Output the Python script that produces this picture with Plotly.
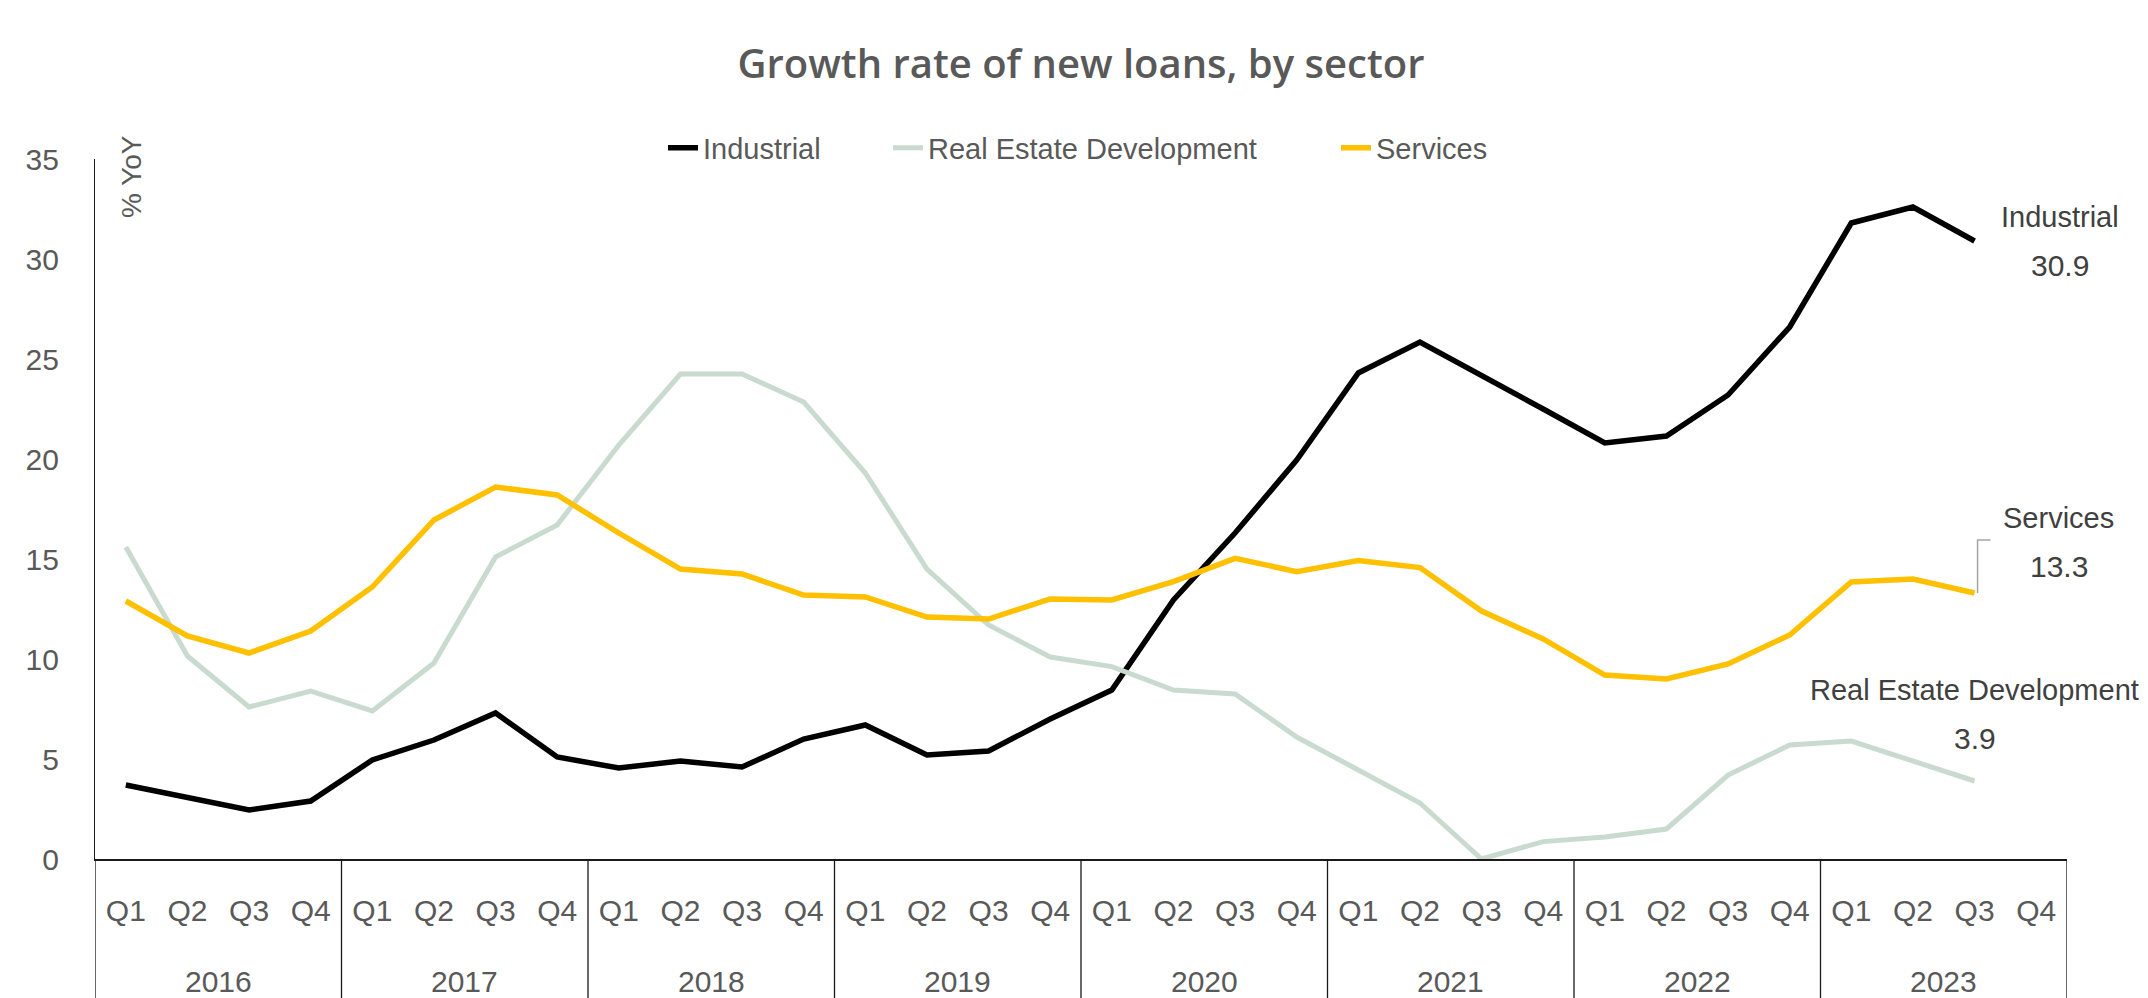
import plotly.graph_objects as go

# Quarterly year-on-year growth of new loans (%), 2016 Q1 - 2023 Q4
years = ["2016", "2017", "2018", "2019", "2020", "2021", "2022", "2023"]
quarters = ["Q1", "Q2", "Q3", "Q4"]

industrial = [3.7, 3.05, 2.45, 2.9, 4.95, 5.95, 7.3, 5.1,
              4.55, 4.9, 4.6, 6.0, 6.7, 5.2, 5.4, 7.0,
              8.45, 12.95, 16.3, 19.95, 24.3, 25.85, 24.2, 22.5,
              20.8, 21.15, 23.2, 26.6, 31.8, 32.6, 30.9, None]
real_estate = [15.6, 10.15, 7.6, 8.4, 7.4, 9.8, 15.1, 16.7,
               20.7, 24.25, 24.25, 22.85, 19.3, 14.5, 11.7, 10.1,
               9.62, 8.45, 8.25, 6.1, 4.45, 2.8, 0.0, 0.87,
               1.1, 1.5, 4.2, 5.7, 5.9, 4.9, 3.9, None]
services = [12.9, 11.15, 10.3, 11.4, 13.6, 16.95, 18.6, 18.2,
            16.3, 14.5, 14.25, 13.2, 13.1, 12.1, 12.0, 13.0,
            12.95, 13.87, 15.03, 14.37, 14.92, 14.57, 12.4, 11.0,
            9.2, 9.0, 9.75, 11.2, 13.85, 14.0, 13.3, None]

series_names = ["Industrial", "Real Estate Development", "Services"]
series_values = [industrial, real_estate, services]
series_colors = ["#000000", "#C9DACE", "#FFC000"]
series_widths = [5.5, 5, 5.5]

FONT = "Liberation Sans, Arial, sans-serif"
TEXT_GREY = "#595959"
LABEL_GREY = "#404040"
AXIS_DARK = "#1a1a1a"

# plot-area geometry (pixels)
W, H = 2148, 998
ML, MR, MT, MB = 95, 81, 159, 139
PLOT_W = W - ML - MR
PLOT_H = H - MT - MB

n_q = len(years) * len(quarters)
x_idx = list(range(n_q))
tick_text = [q for _ in years for q in quarters]

fig = go.Figure()
legend_keys = ["legend", "legend2", "legend3"]
for name, vals, color, width, lg in zip(series_names, series_values, series_colors,
                                        series_widths, legend_keys):
    fig.add_trace(go.Scatter(
        x=x_idx, y=vals, name=name, mode="lines",
        line=dict(color=color, width=width), connectgaps=False,
        hoverinfo="skip", legend=lg,
    ))


def last_point(vals):
    idx = max(i for i, v in enumerate(vals) if v is not None)
    return idx, vals[idx]


annotations = []
# end-of-line labels: series name above its latest value
label_offsets = {
    "Industrial": (85, 24, -24),
    "Services": (84, 75, 27),
    "Real Estate Development": (0, 91, 43),
}
for name, vals in zip(series_names, series_values):
    idx, val = last_point(vals)
    dx, dy_name, dy_val = label_offsets[name]
    annotations.append(dict(x=idx, y=val, xref="x", yref="y", text=name,
                            showarrow=False, xshift=dx, yshift=dy_name,
                            font=dict(family=FONT, size=29, color=LABEL_GREY)))
    annotations.append(dict(x=idx, y=val, xref="x", yref="y", text=f"{val:.1f}",
                            showarrow=False, xshift=dx, yshift=dy_val,
                            font=dict(family=FONT, size=30, color=LABEL_GREY)))

# year labels under each group of four quarters
for i, yr in enumerate(years):
    annotations.append(dict(x=i * len(quarters) + (len(quarters) - 1) / 2, y=0,
                            xref="x", yref="paper", text=yr, showarrow=False,
                            yanchor="top", yshift=-104,
                            font=dict(family=FONT, size=30, color=TEXT_GREY)))

# unit label along the value axis
annotations.append(dict(x=0, y=35, xref="paper", yref="y", text="% YoY",
                        textangle=-90, showarrow=False, xanchor="center",
                        yanchor="middle", xshift=36, yshift=-18,
                        font=dict(family=FONT, size=28, color=TEXT_GREY)))

shapes = []
# year dividers running from the axis down through the category labels
for i in range(len(years) + 1):
    xb = i * len(quarters) - 0.5
    shapes.append(dict(type="line", xref="x", yref="paper", x0=xb, x1=xb,
                       y0=0, y1=-(MB + 5) / PLOT_H,
                       line=dict(color=AXIS_DARK, width=1.3)))

# leader line from the Services end point to its label
s_idx, s_val = last_point(services)
shapes.append(dict(type="path", xref="x", yref="y", xsizemode="pixel",
                   ysizemode="pixel", xanchor=s_idx, yanchor=s_val,
                   path="M 3 0 L 3 53 L 16 53",
                   line=dict(color="#A6A6A6", width=1.5)))

# one legend per series so each entry sits at its own spot in the row
legend_text_x = [703, 928, 1376]
legend_common = dict(orientation="h", xanchor="left", yanchor="middle",
                     y=1 + (MT - 148) / PLOT_H, bgcolor="rgba(0,0,0,0)",
                     font=dict(family=FONT, size=29, color=TEXT_GREY))
legends = {}
for lg, tx in zip(legend_keys, legend_text_x):
    legends[lg] = dict(legend_common, x=(tx - 40 - ML) / PLOT_W)

fig.update_layout(
    width=W, height=H,
    margin=dict(l=ML, r=MR, t=MT, b=MB),
    paper_bgcolor="white", plot_bgcolor="white",
    font=dict(family=FONT, color=TEXT_GREY, size=30),
    title=dict(text="Growth rate of new loans, by sector", x=0.5, xref="paper",
               xanchor="center", y=1 - 64 / H, yref="container", yanchor="middle",
               font=dict(family="Open Sans, " + FONT, size=40, color=TEXT_GREY,
                         weight=600)),
    showlegend=True,
    annotations=annotations,
    shapes=shapes,
    xaxis=dict(range=[-0.5, n_q - 0.5], tickvals=x_idx, ticktext=tick_text,
               showgrid=False, showline=True, linecolor=AXIS_DARK, linewidth=1.5,
               ticks="", ticklabelstandoff=24, zeroline=False,
               tickfont=dict(family=FONT, size=30, color=TEXT_GREY)),
    yaxis=dict(range=[0, 35], dtick=5, showgrid=False, zeroline=False,
               showline=True, linecolor=AXIS_DARK, linewidth=1.3,
               ticks="", ticklabelstandoff=29,
               tickfont=dict(family=FONT, size=30, color=TEXT_GREY)),
    **legends,
)

fig.write_html("out.html")
